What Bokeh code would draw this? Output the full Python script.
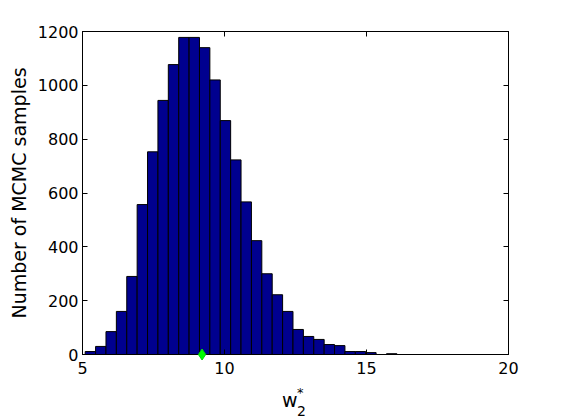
import numpy as np
from bokeh.plotting import figure
from bokeh.models import ColumnDataSource, LinearAxis, Range1d, FixedTicker
from bokeh.core.properties import value
from bokeh.embed import file_html
from bokeh.resources import INLINE

# ---- data ----
data_min = 5.095
data_max = 16.07
n_bins = 30
counts = [11, 30, 85, 160, 290, 557, 753, 944, 1077, 1178,
          1178, 1140, 1020, 869, 723, 567, 423, 300, 222, 160,
          93, 67, 56, 37, 33, 11, 11, 7, 0, 3]
true_value = [9.21]
true_level = [0]

x_ticks = [5, 10, 15, 20]
y_ticks = [0, 200, 400, 600, 800, 1000, 1200]
y_label = "Number of MCMC samples"
x_label_base, x_label_sup, x_label_sub = "w", "*", "2"

FONT = "DejaVu Sans"
X0, X1, Y0, Y1 = 5, 20, 0, 1200
FW, FH = 426, 323

edges = np.linspace(data_min, data_max, n_bins + 1)
src = ColumnDataSource(dict(left=edges[:-1], right=edges[1:],
                            top=counts, bottom=[0] * n_bins))

p = figure(frame_width=FW, frame_height=FH,
           x_range=Range1d(X0, X1), y_range=Range1d(Y0, Y1),
           output_backend="svg", toolbar_location=None,
           min_border_left=82, min_border_top=31,
           min_border_right=45, min_border_bottom=66,
           background_fill_color="white", border_fill_color="white")
p.grid.visible = False
p.outline_line_color = "black"
p.outline_line_width = 1

p.quad(left="left", right="right", top="top", bottom="bottom", source=src,
       fill_color="#00008F", line_color="black", line_width=1)

p.scatter(x=true_value, y=true_level, marker="diamond", size=11,
          fill_color="#00FF00", line_color="#00DD00", line_width=1,
          level="overlay")


def style(ax, ticks, show_labels=True):
    ax.ticker = FixedTicker(ticks=ticks)
    ax.axis_line_color = "black"
    ax.axis_line_width = 1
    ax.major_tick_line_color = "black"
    ax.major_tick_in = 5
    ax.major_tick_out = 0
    ax.minor_tick_line_color = None
    if show_labels:
        ax.major_label_text_font = FONT
        ax.major_label_text_font_size = "16px"
        ax.major_label_text_color = "black"
    else:
        ax.major_label_text_font_size = "0px"
        ax.major_label_text_color = None
        ax.major_label_standoff = 0


style(p.xaxis[0], x_ticks)
p.xaxis[0].major_label_standoff = 7
style(p.yaxis[0], y_ticks)
p.yaxis[0].major_label_standoff = 4
p.yaxis[0].axis_label = y_label
p.yaxis[0].axis_label_text_font = FONT
p.yaxis[0].axis_label_text_font_size = "19px"
p.yaxis[0].axis_label_text_font_style = "normal"
p.yaxis[0].axis_label_text_color = "black"
p.yaxis[0].axis_label_standoff = 5

top_ax = LinearAxis()
style(top_ax, x_ticks, show_labels=False)
p.add_layout(top_ax, "above")
right_ax = LinearAxis()
style(right_ax, y_ticks, show_labels=False)
p.add_layout(right_ax, "right")


# x-axis label w^*_2: three texts placed by pixel offsets from the frame
def px_x(px_from_left):
    return X0 + px_from_left * (X1 - X0) / FW


def px_y_below(px_below):
    return Y0 - px_below * (Y1 - Y0) / FH


common = dict(text_font=value(FONT), text_baseline="alphabetic",
              text_align="left", text_color="black", level="overlay")
p.text(x=[px_x(199.5)], y=[px_y_below(45)], text=[x_label_base],
       text_font_size="19px", **common)
p.text(x=[px_x(214.5)], y=[px_y_below(38)], text=[x_label_sup],
       text_font_size="13px", **common)
p.text(x=[px_x(214.5)], y=[px_y_below(56)], text=[x_label_sub],
       text_font_size="14px", **common)

open("out.html", "w").write(file_html(p, INLINE))
